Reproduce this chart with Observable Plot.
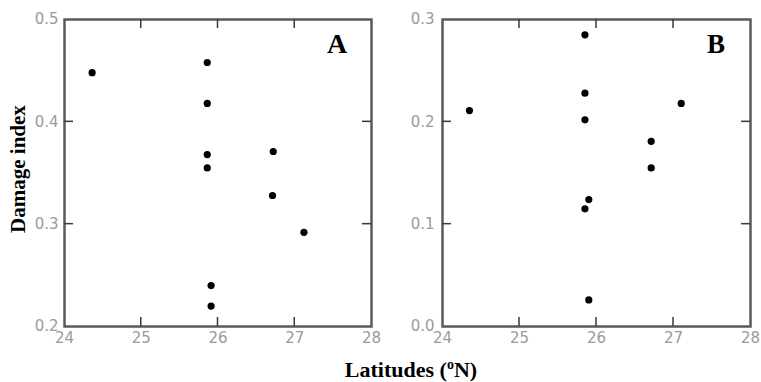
<!DOCTYPE html>
<html>
<head>
<meta charset="utf-8">
<script src="https://cdn.jsdelivr.net/npm/d3@7"></script>
<script src="https://cdn.jsdelivr.net/npm/@observablehq/plot@0.6"></script>
<style>
  html, body { margin: 0; padding: 0; background: #fff; }
  #wrap { position: relative; width: 761px; height: 382px; overflow: hidden; background: #fff; }
  #wrap > .panel { position: absolute; top: 0; }
  #overlay { position: absolute; left: 0; top: 0; pointer-events: none; }
</style>
</head>
<body>
<div id="wrap">
  <div class="panel" id="pa" style="left:0px"></div>
  <div class="panel" id="pb" style="left:380px"></div>
  <svg id="overlay" width="761" height="382"></svg>
</div>
<script>
// ---- data ----
const xTicks = [24, 25, 26, 27, 28];

const latA = [24.36, 25.86, 25.86, 25.86, 25.86, 26.72, 26.71, 27.12, 25.91, 25.91];
const damA = [0.448, 0.458, 0.418, 0.368, 0.355, 0.371, 0.328, 0.292, 0.240, 0.220];
const yTicksA = [0.2, 0.3, 0.4, 0.5];

const latB = [24.35, 25.85, 25.85, 25.85, 25.85, 25.90, 25.90, 26.71, 26.71, 27.10];
const damB = [0.211, 0.285, 0.228, 0.202, 0.115, 0.124, 0.026, 0.181, 0.155, 0.218];
const yTicksB = [0.0, 0.1, 0.2, 0.3];

const panelLetters = ["A", "B"];
const yTitle = "Damage index";

// ---- drawing ----
const H = 360, MT = 19, MB = 34, TICK = 9;

function panel(lat, dam, yTicks, width, ml, mr, padY) {
  const data = lat.map((x, i) => ({x, y: dam[i]}));
  const x0 = xTicks[0], x1 = xTicks[xTicks.length - 1];
  const y0 = yTicks[0], y1 = yTicks[yTicks.length - 1];
  const innerXv = xTicks.slice(1, -1);
  const innerYv = yTicks.slice(1, -1);
  const fmt = d3.format(".1f");
  const svg = Plot.plot({
    width, height: H,
    marginLeft: ml, marginRight: mr, marginTop: MT, marginBottom: MB,
    x: {type: "linear", domain: [x0, x1]},
    y: {type: "linear", domain: [y0, y1]},
    style: {fontFamily: "DejaVu Sans", fontSize: "15px", color: "#999", background: "transparent", overflow: "visible"},
    marks: [
      Plot.frame({stroke: "#5a5a5a", strokeWidth: 2.5, fill: "none"}),
      Plot.axisX(xTicks, {anchor: "bottom", tickSize: 0, tickPadding: 6, tickFormat: d => String(d), fill: "#9a9a9a", label: null}),
      Plot.axisY(yTicks, {anchor: "left", tickSize: 0, tickPadding: padY, tickFormat: fmt, fill: "#9a9a9a", label: null}),
      Plot.dot(data, {x: "x", y: "y", r: 3.6, fill: "#000", stroke: "none"})
    ]
  });
  // inward ticks on all four sides, placed with the plot's own scales
  try {
    const sxo = svg.scale("x"), syo = svg.scale("y");
    const sx = sxo && sxo.apply ? v => sxo.apply(v) : d3.scaleLinear([x0, x1], [ml, width - mr]);
    const sy = syo && syo.apply ? v => syo.apply(v) : d3.scaleLinear([y0, y1], [H - MB, MT]);
    const g = d3.select(svg).append("g").attr("stroke", "#3a3a3a").attr("stroke-width", 1.5);
    const bx = sx(x0), ex = sx(x1), by = sy(y0), ey = sy(y1);
    for (const v of innerXv) {
      const px = sx(v);
      g.append("line").attr("x1", px).attr("x2", px).attr("y1", by).attr("y2", by - TICK);
      g.append("line").attr("x1", px).attr("x2", px).attr("y1", ey).attr("y2", ey + TICK);
    }
    for (const v of innerYv) {
      const py = sy(v);
      g.append("line").attr("y1", py).attr("y2", py).attr("x1", bx).attr("x2", bx + TICK);
      g.append("line").attr("y1", py).attr("y2", py).attr("x1", ex).attr("x2", ex - TICK);
    }
  } catch (e) { console.error(e); }
  return svg;
}

document.getElementById("pa").append(panel(latA, damA, yTicksA, 380, 64, 9, 6));
document.getElementById("pb").append(panel(latB, damB, yTicksB, 381, 62, 11, 8));

// ---- labels ----
const ov = d3.select("#overlay");
ov.append("text").attr("x", 337).attr("y", 53).attr("text-anchor", "middle")
  .attr("font-family", "Liberation Serif").attr("font-weight", "bold").attr("font-size", 28)
  .text(panelLetters[0]);
ov.append("text").attr("x", 716).attr("y", 53).attr("text-anchor", "middle")
  .attr("font-family", "Liberation Serif").attr("font-weight", "bold").attr("font-size", 27)
  .text(panelLetters[1]);
ov.append("text").attr("transform", "translate(25,169) rotate(-90)").attr("text-anchor", "middle")
  .attr("font-family", "Liberation Serif").attr("font-weight", "bold").attr("font-size", 21)
  .text(yTitle);
const xt = ov.append("text").attr("x", 411).attr("y", 377).attr("text-anchor", "middle")
  .attr("font-family", "Liberation Serif").attr("font-weight", "bold").attr("font-size", 22);
xt.append("tspan").text("Latitudes (");
xt.append("tspan").attr("font-size", 14).attr("dy", -8).text("o");
xt.append("tspan").attr("dy", 8).text("N)");
</script>
</body>
</html>
